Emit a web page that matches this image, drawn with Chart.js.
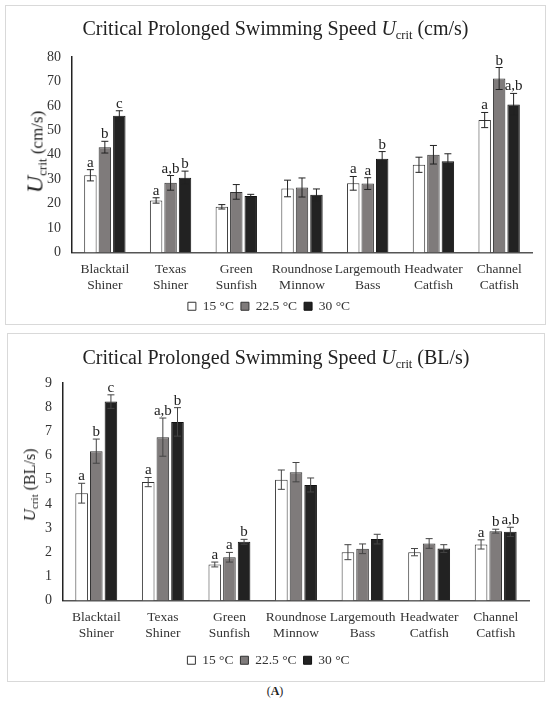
<!DOCTYPE html>
<html>
<head>
<meta charset="utf-8">
<script src="https://cdn.jsdelivr.net/npm/chart.js@4.4.0/dist/chart.umd.min.js"></script>
<style>
  body { margin: 0; background: #fff; font-family: "Liberation Serif", serif; color: #222; }
  #page { position: relative; width: 550px; height: 702px; }
  .box { position: absolute; border: 1px solid #d9d9d9; box-sizing: border-box; }
  .box canvas { position: absolute; left: 0; top: 0; }
  .title { position: absolute; left: 0; width: 100%; text-align: center; font-size: 20px; line-height: 24px; }
  .ytitle { position: absolute; white-space: nowrap; transform: translate(-50%, -50%) rotate(-90deg); }
  .sub { font-size: 0.62em; position: relative; top: 0.3em; }
  #caption { position: absolute; top: 683px; left: 0; width: 550px; text-align: center; font-size: 12px; line-height: 16px; }
</style>
</head>
<body>
<div id="page">
  <div class="box" style="left:5px;top:5px;width:541px;height:320px;">
    <canvas id="chart-cm" width="539" height="318"></canvas>
    <div class="title" style="top:10px;">Critical Prolonged Swimming Speed <i>U</i><span class="sub">crit</span> (cm/s)</div>
    <div class="ytitle" style="left:29px;top:146px;font-size:17px;"><i style="font-size:24px;">U</i><span class="sub" style="font-size:13px;">crit</span> (cm/s)</div>
  </div>
  <div class="box" style="left:7px;top:333px;width:538px;height:349px;">
    <canvas id="chart-bl" width="536" height="347"></canvas>
    <div class="title" style="top:11px;">Critical Prolonged Swimming Speed <i>U</i><span class="sub">crit</span> (BL/s)</div>
    <div class="ytitle" style="left:22px;top:151px;font-size:16px;"><i style="font-size:17px;">U</i><span class="sub" style="font-size:11px;">crit</span> (BL/s)</div>
  </div>
  <div id="caption">(<b>A</b>)</div>
</div>

<script>
// categories and series
const species = [['Blacktail', 'Shiner'], ['Texas', 'Shiner'], ['Green', 'Sunfish'], ['Roundnose', 'Minnow'],
  ['Largemouth', 'Bass'], ['Headwater', 'Catfish'], ['Channel', 'Catfish']];
const temps = ['15 °C', '22.5 °C', '30 °C'];

// Ucrit in cm/s, means and error
const cm15 = [31.6, 21.3, 18.7, 26.2, 28.3, 35.9, 54.2];
const cm225 = [43.1, 28.5, 24.8, 26.6, 28.2, 40.0, 71.2];
const cm30 = [56.0, 30.6, 23.1, 23.6, 38.4, 37.3, 60.6];
const cmErr15 = [2.3, 1.1, 0.9, 3.4, 2.8, 3.1, 3.1];
const cmErr225 = [2.4, 3.0, 3.0, 3.9, 2.4, 3.8, 4.5];
const cmErr30 = [2.0, 2.7, 0.7, 2.4, 2.9, 3.1, 4.5];
const cmLet15 = ['a', 'a', '', '', 'a', '', 'a'];
const cmLet225 = ['b', 'a,b', '', '', 'a', '', 'b'];
const cmLet30 = ['c', 'b', '', '', 'b', '', 'a,b'];
const cmTicks = [0, 80, 10];

// Ucrit in body lengths/s
const bl15 = [4.44, 4.90, 1.49, 5.00, 2.00, 2.00, 2.32];
const bl225 = [6.18, 6.76, 1.79, 5.31, 2.14, 2.36, 2.87];
const bl30 = [8.23, 7.39, 2.43, 4.78, 2.54, 2.15, 2.84];
const blErr15 = [0.41, 0.19, 0.10, 0.40, 0.31, 0.15, 0.19];
const blErr225 = [0.50, 0.79, 0.20, 0.40, 0.20, 0.20, 0.08];
const blErr30 = [0.28, 0.59, 0.10, 0.29, 0.20, 0.16, 0.19];
const blLet15 = ['a', 'a', 'a', '', '', '', 'a'];
const blLet225 = ['b', 'a,b', 'a', '', '', '', 'b'];
const blLet30 = ['c', 'b', 'b', '', '', '', 'a,b'];
const blTicks = [0, 9, 1];

const serif = '"Liberation Serif", serif';
const fills = ['#ffffff', '#7f7b7b', '#222222'];
const edges = ['#333333', '#333333', '#111111'];

// error bars + significance letters on top of the bars
const errorBars = {
  id: 'errorBars',
  afterDatasetsDraw(chart, args, opts) {
    const ctx = chart.ctx;
    const y = chart.scales.y;
    chart.data.datasets.forEach((ds, i) => {
      chart.getDatasetMeta(i).data.forEach((bar, j) => {
        const v = ds.data[j], e = ds.errors[j];
        const top = y.getPixelForValue(v + e);
        const bot = y.getPixelForValue(v - e);
        ctx.save();
        ctx.strokeStyle = opts.color;
        ctx.lineWidth = 1;
        ctx.beginPath();
        ctx.moveTo(bar.x, top); ctx.lineTo(bar.x, bot);
        ctx.moveTo(bar.x - 3.5, top); ctx.lineTo(bar.x + 3.5, top);
        ctx.moveTo(bar.x - 3.5, bot); ctx.lineTo(bar.x + 3.5, bot);
        ctx.stroke();
        if (ds.letters[j]) {
          ctx.fillStyle = '#222';
          ctx.font = '15px ' + serif;
          ctx.textAlign = 'center';
          ctx.textBaseline = 'alphabetic';
          ctx.fillText(ds.letters[j], bar.x, top - 3);
        }
        ctx.restore();
      });
    });
  }
};

function makeChart(id, series, errors, letters, ticks, box) {
  new Chart(document.getElementById(id), {
    type: 'bar',
    data: {
      labels: species,
      datasets: series.map((s, i) => ({
        label: temps[i],
        data: s,
        errors: errors[i],
        letters: letters[i],
        backgroundColor: fills[i],
        borderColor: edges[i],
        borderWidth: 1,
        categoryPercentage: 0.66,
        barPercentage: 0.86
      }))
    },
    plugins: [errorBars],
    options: {
      responsive: false,
      animation: false,
      layout: {
        padding: { left: 0, top: box.top, right: box.right, bottom: box.bottom }
      },
      plugins: {
        errorBars: { color: box.errColor },
        tooltip: { enabled: false },
        legend: {
          position: 'bottom',
          labels: {
            boxWidth: 8,
            boxHeight: 8,
            padding: 7,
            color: '#333',
            font: { family: serif, size: 13.5 }
          }
        }
      },
      scales: {
        x: {
          grid: { display: false, drawTicks: false },
          border: { color: '#555', width: 1.5 },
          ticks: {
            color: '#333', padding: 9, autoSkip: false, minRotation: 0, maxRotation: 0,
            font: { family: serif, size: 13.5 }
          },
          afterFit: s => { s.height = box.xHeight; }
        },
        y: {
          min: ticks[0],
          max: ticks[1],
          grid: { display: false, drawTicks: false },
          border: { color: '#222', width: 1.5 },
          ticks: { stepSize: ticks[2], color: '#333', padding: 11, font: { family: serif, size: 14 } },
          afterFit: s => { s.width = box.yWidth; }
        }
      }
    }
  });
}

makeChart('chart-cm', [cm15, cm225, cm30], [cmErr15, cmErr225, cmErr30], [cmLet15, cmLet225, cmLet30], cmTicks,
  { top: 51, right: 13, bottom: 1, xHeight: 40, yWidth: 66, errColor: '#222' });
makeChart('chart-bl', [bl15, bl225, bl30], [blErr15, blErr225, blErr30], [blLet15, blLet225, blLet30], blTicks,
  { top: 49, right: 15, bottom: 4, xHeight: 46, yWidth: 55, errColor: '#444' });
</script>
</body>
</html>
